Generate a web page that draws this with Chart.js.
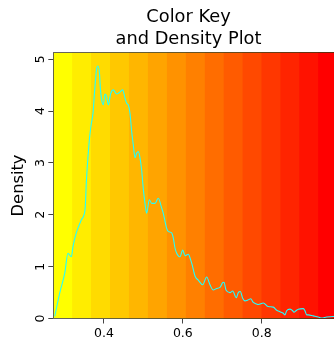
<!DOCTYPE html>
<html>
<head>
<meta charset="utf-8">
<script src="https://cdn.jsdelivr.net/npm/chart.js@4/dist/chart.umd.min.js"></script>
<style>
  html, body { margin: 0; padding: 0; background: #ffffff; overflow: hidden; }
  #wrap { width: 334px; height: 347px; overflow: hidden; position: relative; }
  canvas { display: block; }
</style>
</head>
<body>
<div id="wrap"><canvas id="c" width="430" height="347"></canvas></div>
<script>
// ---- data ----
const titleLines = ['Color Key', 'and Density Plot'];
const yLabel = 'Density';
const xTicks = [0.4, 0.6, 0.8];
const yTicks = [0, 1, 2, 3, 4, 5];
const xMin = 0.2714;
const xMax = 1.0925;
const yMax = 5.1325;

// colour key bands (left break of each band and its colour)
const keyBreaks = [0.2714, 0.319, 0.367, 0.415, 0.463, 0.511, 0.559, 0.607, 0.655, 0.703, 0.751, 0.799, 0.847, 0.895, 0.943];
const keyColors = ['#FFFF00', '#FFED00', '#FFDB00', '#FFC800', '#FFB600', '#FFA400', '#FF9200', '#FF8000',
                   '#FF6D00', '#FF5B00', '#FF4900', '#FF3700', '#FF2400', '#FF1200', '#FF0000'];

// density curve
const densX = [0.2750,0.2876,0.3003,0.3087,0.3171,0.3214,0.3297,0.3424,0.3493,0.3526,
               0.3551,0.3594,0.3637,0.3678,0.3721,0.3764,0.3810,0.3848,0.3886,0.3911,
               0.3942,0.3982,0.4025,0.4068,0.4109,0.4170,0.4236,0.4322,0.4406,0.4474,
               0.4533,0.4576,0.4616,0.4659,0.4703,0.4743,0.4786,0.4829,0.4870,0.4913,
               0.4956,0.4997,0.5040,0.5083,0.5149,0.5210,0.5294,0.5377,0.5464,0.5504,
               0.5590,0.5631,0.5717,0.5758,0.5801,0.5844,0.5885,0.5928,0.5996,0.6055,
               0.6138,0.6199,0.6232,0.6308,0.6392,0.6503,0.6605,0.6689,0.6772,0.6859,
               0.6942,0.7011,0.7044,0.7094,0.7196,0.7264,0.7356,0.7406,0.7457,0.7518,
               0.7576,0.7660,0.7721,0.7787,0.7873,0.7914,0.8041,0.8167,0.8294,0.8380,
               0.8464,0.8548,0.8591,0.8634,0.8718,0.8786,0.8819,0.8870,0.8928,0.9055,
               0.9098,0.9141,0.9182,0.9309,0.9436,0.9522,0.9649,0.9816,0.9986,1.0240,
               1.0490];
const densY = [0.04,0.49,0.87,1.26,1.19,1.39,1.65,1.90,2.00,2.16,
               2.61,3.12,3.51,3.76,3.96,4.41,4.80,4.87,4.72,4.41,
               4.21,4.12,4.33,4.28,4.12,4.34,4.41,4.33,4.37,4.41,
               4.25,4.15,4.12,3.96,3.60,3.35,3.10,3.19,3.22,3.10,
               2.86,2.50,2.22,2.03,2.29,2.22,2.22,2.32,2.13,2.03,
               1.74,1.68,1.65,1.55,1.36,1.26,1.21,1.19,1.32,1.21,
               1.24,1.13,1.05,0.82,0.74,0.65,0.80,0.65,0.55,0.58,
               0.60,0.69,0.70,0.55,0.50,0.53,0.40,0.50,0.52,0.39,
               0.34,0.36,0.38,0.31,0.28,0.27,0.30,0.23,0.22,0.16,
               0.13,0.10,0.07,0.15,0.18,0.15,0.12,0.15,0.18,0.19,
               0.15,0.07,0.07,0.05,0.03,0.01,0.03,0.04,0.03,0.02,
               0.01];

// ---- build ----
const FONT = 'DejaVu Sans';
const datasets = [];
// density line first => drawn on top
datasets.push({
  label: 'density',
  data: densX.map((x, i) => ({ x: x, y: densY[i] })),
  borderColor: '#22FFFF',
  borderWidth: 1.1,
  pointRadius: 0,
  fill: false,
  cubicInterpolationMode: 'monotone'
});
// key bands: each band fills from its break to the right edge; later (redder)
// bands are pushed first so they are drawn over earlier ones -> no seams
for (let i = keyColors.length - 1; i >= 0; i--) {
  datasets.push({
    label: 'key' + i,
    data: [{ x: keyBreaks[i], y: yMax }, { x: xMax, y: yMax }],
    backgroundColor: keyColors[i],
    borderColor: keyColors[i],
    borderWidth: 0,
    pointRadius: 0,
    fill: 'origin'
  });
}

const boxPlugin = {
  id: 'plotBox',
  afterDatasetsDraw(chart) {
    const a = chart.chartArea;
    const ctx = chart.ctx;
    ctx.save();
    ctx.strokeStyle = 'rgba(0,0,0,0.6)';
    ctx.lineWidth = 1;
    const l = Math.floor(a.left) + 0.5, t = Math.floor(a.top) + 0.5;
    const r = Math.floor(a.right) + 0.5, b = Math.floor(a.bottom) + 0.5;
    ctx.strokeRect(l, t, r - l, b - t);
    ctx.restore();
  }
};

new Chart(document.getElementById('c'), {
  type: 'line',
  data: { datasets: datasets },
  plugins: [boxPlugin],
  options: {
    responsive: false,
    animation: false,
    events: [],
    layout: { padding: { left: 0, right: 53, top: 0, bottom: 0 } },
    plugins: {
      legend: { display: false },
      tooltip: { enabled: false },
      title: {
        display: true,
        text: titleLines,
        color: '#000',
        font: { family: FONT, size: 17.8, weight: 'normal', lineHeight: 1.22 },
        padding: { top: 7, bottom: 2 }
      }
    },
    scales: {
      x: {
        type: 'linear',
        min: xMin,
        max: xMax,
        afterBuildTicks: s => { s.ticks = xTicks.map(v => ({ value: v })); },
        afterFit: s => { s.height = 28.5; },
        ticks: {
          padding: 2.5,
          maxRotation: 0,
          color: '#000',
          font: { family: FONT, size: 12.5 },
          callback: v => Number(v).toFixed(1)
        },
        grid: { display: true, drawOnChartArea: false, drawTicks: true, tickLength: 5, color: '#444' },
        border: { display: false }
      },
      y: {
        type: 'linear',
        min: 0,
        max: yMax,
        afterBuildTicks: s => { s.ticks = yTicks.map(v => ({ value: v })); },
        afterFit: s => { s.width = 53.3; },
        ticks: {
          minRotation: 90,
          maxRotation: 90,
          crossAlign: 'center',
          padding: 3.5,
          color: '#000',
          font: { family: FONT, size: 12.5 },
          callback: v => String(v)
        },
        grid: { display: true, drawOnChartArea: false, drawTicks: true, tickLength: 5, color: '#444' },
        border: { display: false },
        title: {
          display: true,
          text: yLabel,
          color: '#000',
          font: { family: FONT, size: 16.3 },
          padding: { top: 8.9, bottom: 0 }
        }
      }
    }
  }
});
</script>
</body>
</html>
